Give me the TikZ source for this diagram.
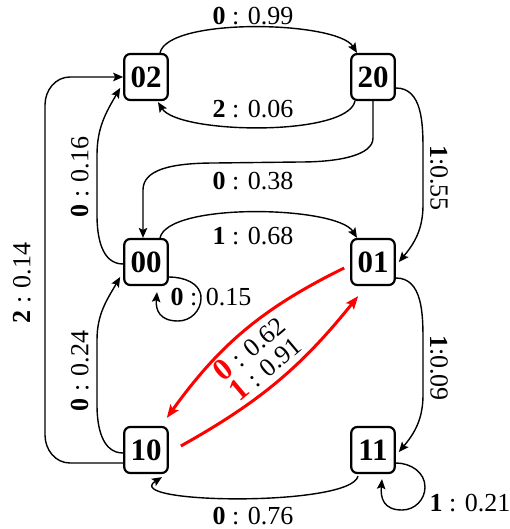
\documentclass[tikz,border=0pt]{standalone}
\usepackage{fontspec}
\setmainfont{Liberation Serif}
\usetikzlibrary{arrows.meta}
\begin{document}
\begin{tikzpicture}[x=1pt,y=1pt,
  st/.style={draw, fill=white, line width=2.2pt, rounded corners=6pt,
    minimum width=43.5pt, minimum height=46pt, inner sep=0pt,
    font=\bfseries\fontsize{31}{31}\selectfont},
  lab/.style={inner sep=0pt, font=\fontsize{26}{26}\selectfont},
  edge/.style={line width=1.4pt, -{Stealth[length=10pt,width=8.5pt,inset=2pt]}},
  redge/.style={line width=3pt, red, -{Stealth[length=13pt,width=10pt,inset=2.5pt]}}]
\useasboundingbox (0,0) rectangle (510,-529);
\newcommand{\rdig}[1]{{\color{red}\bfseries\fontsize{31}{26}\selectfont #1}}

\node[st] (n02) at (146,-77) {02};
\node[st] (n20) at (373,-77) {20};
\node[st] (n00) at (146,-262) {00};
\node[st] (n01) at (373,-262) {01};
\node[st] (n10) at (146,-450) {10};
\node[st] (n11) at (373,-450) {11};

% top pair
\draw[edge] ([xshift=14pt]n02.north) .. controls +(8,36) and +(-20,32) .. ([xshift=-16pt]n20.north);
\draw[edge] ([xshift=-18pt]n20.south) .. controls +(-8,-36) and +(20,-32) .. ([xshift=12pt,yshift=-1pt]n02.south);

% 20 -> 00
\draw[edge] (n20.south) -- (373,-138) .. controls (373,-155) and (340,-162) .. (300,-162)
  -- (215,-163) .. controls (170,-163) and (143,-170) .. (143,-190) -- ([xshift=-3pt]n00.north);

% 00 -> 02 (inner left)
\draw[edge] ([yshift=-2pt]n00.west) to[out=180,in=-90] (97,-215) -- (97,-155)
  to[out=90,in=-120] ([xshift=-3pt,yshift=-11pt]n02.west);

% 10 -> 02 (outer left)
\draw[edge] ([yshift=-13pt]n10.west) -- (70,-463) to[out=180,in=-90] (45,-435) -- (45,-105)
  to[out=90,in=180] (70,-77) -- (n02.west);

% 10 -> 00 (inner left)
\draw[edge] ([yshift=-3pt]n10.west) to[out=180,in=-90] (97,-405) -- (97,-340)
  to[out=90,in=-120] ([xshift=-3pt,yshift=-15pt]n00.west);

% 20 -> 01 (right)
\draw[edge] ([yshift=-11pt]n20.east) to[out=0,in=90] (423,-150) -- (423,-205)
  to[out=-90,in=50] ([xshift=3pt]n01.east);

% 01 -> 11 (right)
\draw[edge] ([yshift=-16pt]n01.east) to[out=0,in=90] (423,-340) -- (423,-395)
  to[out=-90,in=50] ([xshift=3pt,yshift=-2pt]n11.east);

% 00 -> 01
\draw[edge] ([xshift=14pt]n00.north) .. controls +(8,36) and +(-20,32) .. ([xshift=-16pt]n01.north);

% 11 -> 10
\draw[edge] ([xshift=-15pt,yshift=-2pt]n11.south) .. controls +(-7,-31) and +(-43,-27) .. ([xshift=16pt,yshift=-3pt]n10.south);

% self loop 00
\draw[edge] ([yshift=-15pt]n00.east) to[out=0,in=90] (201,-298) to[out=-90,in=0] (178,-321)
  to[out=180,in=-95,looseness=1.3] ([xshift=11pt,yshift=-6pt]n00.south);

% self loop 11
\draw[edge] ([yshift=-13pt]n11.east) to[out=0,in=90] (425,-487) to[out=-90,in=0] (402,-510)
  to[out=180,in=-95,looseness=1.3] ([xshift=9pt,yshift=-5pt]n11.south);

% red edges
\draw[redge] ([xshift=-6pt,yshift=-6pt]n01.west) to[bend right=14] ([xshift=-2pt,yshift=8pt]n10.north east);
\draw[redge] ([xshift=12pt,yshift=4pt]n10.east) to[bend right=11] ([xshift=8pt,yshift=-10pt]n01.south west);

% labels
\node[lab] (l1) at (253,-16) {\textbf{0} : 0.99};
\node[lab] (l2) at (253,-109) {\textbf{2} : 0.06};
\node[lab] (l3) at (253,-181) {\textbf{0} : 0.38};
\node[lab] (l4) at (253,-236) {\textbf{1} : 0.68};
\node[lab] (l5) at (253,-516.5) {\textbf{0} : 0.76};
\node[lab] (l6) at (470,-503) {\textbf{1} : 0.21};
\node[lab] (l7) at (211,-297) {\textbf{0} : 0.15};
\node[lab,rotate=90] (l8) at (80,-177) {\textbf{0} : 0.16};
\node[lab,rotate=90] (l9) at (22,-283) {\textbf{2} : 0.14};
\node[lab,rotate=90] (l10) at (80,-371) {\textbf{0} : 0.24};
\node[lab,rotate=-90] (l11) at (439,-178) {\textbf{1}:0.55};
\node[lab,rotate=-90] (l12) at (439,-368) {\textbf{1}:0.09};
\node[lab,rotate=40,align=left] (l13) at (257,-358) {\rdig{0} : 0.62\\\rdig{1} : 0.91};
\end{tikzpicture}
\end{document}
